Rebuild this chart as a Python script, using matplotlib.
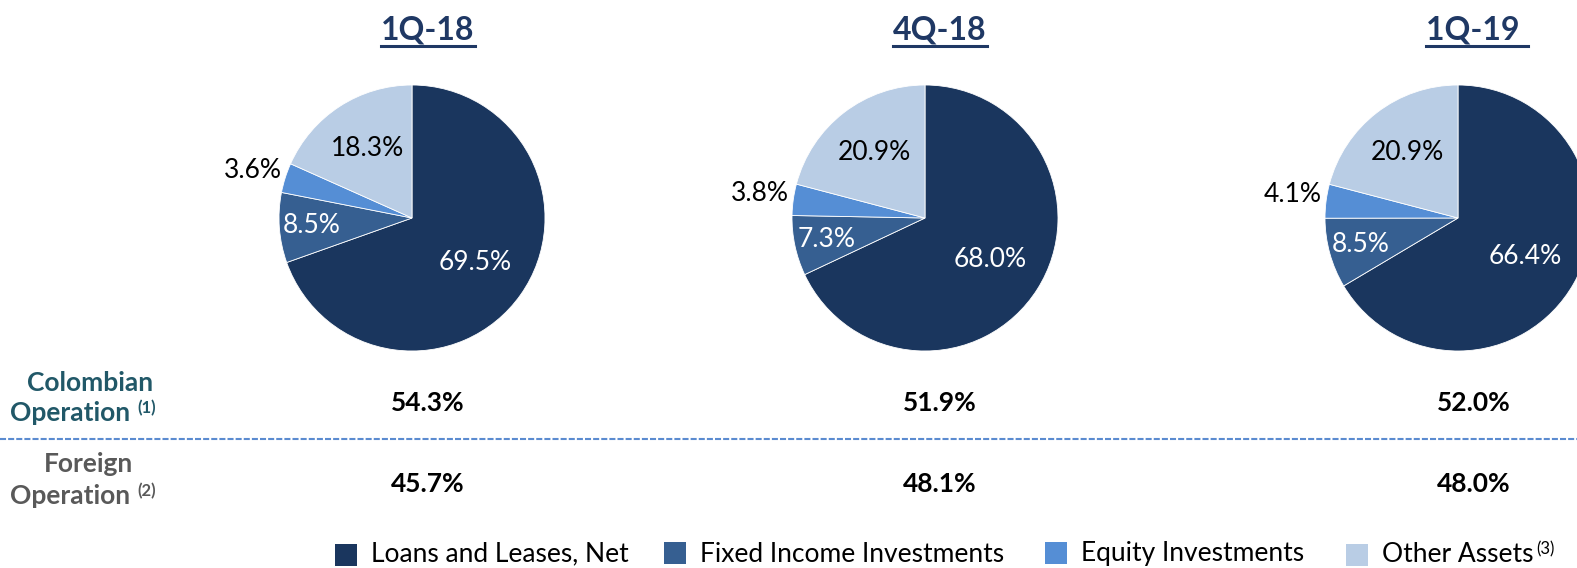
import numpy as np
import matplotlib.pyplot as plt
from matplotlib.patches import Rectangle

plt.rcParams['font.family'] = ['Lato', 'DejaVu Sans']

# Data
periods = ['1Q-18', '4Q-18', '1Q-19']
categories = ['Loans and Leases, Net', 'Fixed Income Investments', 'Equity Investments', 'Other Assets']
shares = [
    [69.5, 8.5, 3.6, 18.3],
    [68.0, 7.3, 3.8, 20.9],
    [66.4, 8.5, 4.1, 20.9],
]
colombian = [54.3, 51.9, 52.0]
foreign = [45.7, 48.1, 48.0]

colors = ['#1a365e', '#365f91', '#558ed5', '#b9cde5']
label_colors = ['white', 'white', 'black', 'black']
label_dist = [0.58, 0.76, 1.03, 0.62]

W, H = 1577, 568
fig = plt.figure(figsize=(W / 100, H / 100), dpi=100)
ax = fig.add_axes([0, 0, 1, 1])

def Y(py):
    return H - py

pie_x = [412, 925, 1458]
col_x = [428, 940, 1474]
title_x = [428, 940, 1477]
title_txt = ['1Q-18', '4Q-18', '1Q-19 ']
R = 133

titles = []
for i, vals in enumerate(shares):
    cx, cy = pie_x[i], Y(218)
    wedges, _ = ax.pie(vals, colors=colors, startangle=90, counterclock=False,
                       center=(cx, cy), radius=R,
                       wedgeprops=dict(edgecolor='white', linewidth=0.6))
    for j, w in enumerate(wedges):
        mid = np.deg2rad((w.theta1 + w.theta2) / 2)
        d = label_dist[j] * R
        tx, ty = cx + d * np.cos(mid), cy + d * np.sin(mid)
        ha = 'center'
        if j == 2:  # small slice: label sits outside, to the left
            ha = 'right'
            ty += 6
        ax.text(tx, ty, f'{vals[j]:.1f}%', ha=ha, va='center',
                fontsize=19, color=label_colors[j])
    # period title
    titles.append(ax.text(title_x[i], Y(30), title_txt[i], ha='center', va='center',
                          fontsize=23, fontweight='bold', color='#1f3864'))
    # operation shares
    ax.text(col_x[i], Y(403), f'{colombian[i]:.1f}%', ha='center', va='center',
            fontsize=19, fontweight='bold', color='black')
    ax.text(col_x[i], Y(484), f'{foreign[i]:.1f}%', ha='center', va='center',
            fontsize=19, fontweight='bold', color='black')

ax.set_xlim(0, W)
ax.set_ylim(0, H)
ax.set_aspect('auto')
ax.axis('off')

# row labels
ax.text(90, Y(383), 'Colombian', ha='center', va='center', fontsize=19,
        fontweight='bold', color='#215868')
ax.text(70, Y(413), 'Operation', ha='center', va='center', fontsize=19,
        fontweight='bold', color='#215868')
ax.text(137, Y(408), '(1)', ha='left', va='center', fontsize=12,
        fontweight='bold', color='#215868')
ax.text(88, Y(464), 'Foreign', ha='center', va='center', fontsize=19,
        fontweight='bold', color='#595959')
ax.text(70, Y(496), 'Operation', ha='center', va='center', fontsize=19,
        fontweight='bold', color='#595959')
ax.text(137, Y(491), '(2)', ha='left', va='center', fontsize=12,
        fontweight='bold', color='#595959')

ax.plot([0, W], [Y(439), Y(439)], color='#5b8bd0', linewidth=1.5,
        linestyle=(0, (2.9, 1.0)))

# legend
leg_x = [335, 664, 1045, 1346]
leg_y = [555, 553, 553, 555]
for k, name in enumerate(categories):
    ax.add_patch(Rectangle((leg_x[k], Y(leg_y[k] + 11)), 22, 22,
                           facecolor=colors[k], edgecolor='none'))
    last = ax.text(leg_x[k] + 36, Y(554), name, ha='left', va='center',
                   fontsize=19, color='black')

# underline the period titles and place the legend footnote mark
fig.canvas.draw()
inv = ax.transData.inverted()
for txt in titles:
    bb = txt.get_window_extent()
    (x0, y0), (x1, y1) = inv.transform([[bb.x0, bb.y0], [bb.x1, bb.y1]])
    ax.plot([x0, x1], [y0 - 1, y0 - 1], color='#1f3864', linewidth=2.2)
bb = last.get_window_extent()
(x0, y0), (x1, y1) = inv.transform([[bb.x0, bb.y0], [bb.x1, bb.y1]])
ax.text(x1 + 3, Y(549), '(3)', ha='left', va='center', fontsize=12, color='black')

fig.savefig('out.png', dpi=100)
